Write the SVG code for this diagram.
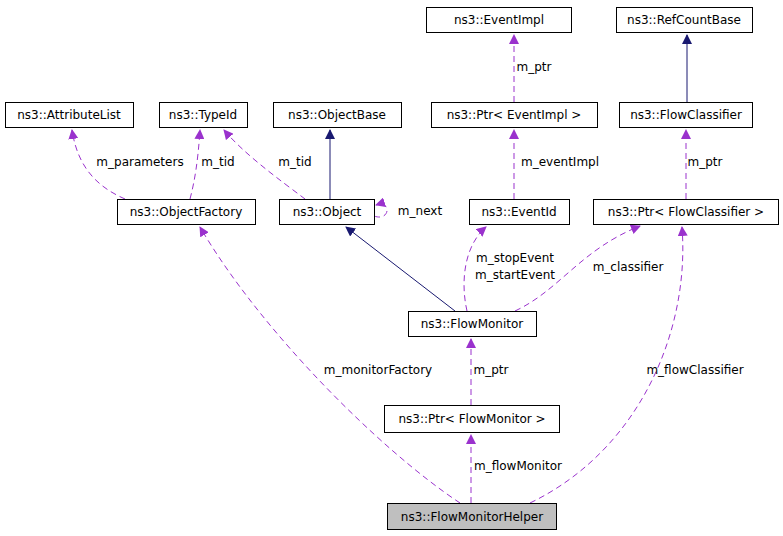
<svg xmlns="http://www.w3.org/2000/svg" width="783" height="536" viewBox="0 0 783 536">
<style>
text{font-family:"DejaVu Sans",sans-serif;font-size:12px;fill:#000}
.n{fill:#fff;stroke:#000;stroke-width:1}
.t{text-anchor:middle}
.d{fill:none;stroke:#9a32cd;stroke-dasharray:6,4}
.s{fill:none;stroke:#191970}
</style>
<defs>
<marker id="ap" viewBox="0 0 10 10" refX="9" refY="5" markerWidth="10" markerHeight="10" markerUnits="userSpaceOnUse" orient="auto"><path d="M0,0L10,5L0,10z" fill="#9a32cd"/></marker>
<marker id="an" viewBox="0 0 10 10" refX="9" refY="5" markerWidth="10" markerHeight="10" markerUnits="userSpaceOnUse" orient="auto"><path d="M0,0L10,5L0,10z" fill="#191970"/></marker>
</defs>
<rect width="783" height="536" fill="#fff"/>
<g id="edges">
<path class="d" d="M514,102L514,35" marker-end="url(#ap)"/><text x="534" y="71" class="t">m_ptr</text>
<path class="s" d="M687,102L687,35" marker-end="url(#an)"/>
<path class="d" d="M125,199C100,188 78,170 72,130" marker-end="url(#ap)"/><text x="140" y="166" class="t">m_parameters</text>
<path class="d" d="M190,199C195,180 198,160 200,130" marker-end="url(#ap)"/><text x="218" y="166" class="t">m_tid</text>
<path class="d" d="M305,199C280,180 245,155 224,130" marker-end="url(#ap)"/><text x="295" y="166" class="t">m_tid</text>
<path class="s" d="M330,199L330,130" marker-end="url(#an)"/>
<path class="d" d="M374,216C390,222 392,200 376,205" marker-end="url(#ap)"/><text x="420" y="215" class="t">m_next</text>
<path class="d" d="M514,199L514,130" marker-end="url(#ap)"/><text x="560" y="166" class="t">m_eventImpl</text>
<path class="d" d="M686,199L686,130" marker-end="url(#ap)"/><text x="705" y="166" class="t">m_ptr</text>
<path class="s" d="M455,311L346,227" marker-end="url(#an)"/>
<path class="d" d="M467,311C460,280 465,245 486,227" marker-end="url(#ap)"/><text x="515" y="262" class="t">m_stopEvent</text><text x="515" y="279" class="t">m_startEvent</text>
<path class="d" d="M515,311C560,290 580,250 640,226" marker-end="url(#ap)"/><text x="628" y="271" class="t">m_classifier</text>
<path class="d" d="M471,405L471,339" marker-end="url(#ap)"/><text x="491" y="374" class="t">m_ptr</text>
<path class="d" d="M471,503L471,435" marker-end="url(#ap)"/><text x="518" y="470" class="t">m_flowMonitor</text>
<path class="d" d="M460,503C380,450 260,330 200,227" marker-end="url(#ap)"/><text x="378" y="374" class="t">m_monitorFactory</text>
<path class="d" d="M530,503C640,450 690,330 682,227" marker-end="url(#ap)"/><text x="695" y="374" class="t">m_flowClassifier</text>
</g>
<g id="EventImpl"><rect class="n" x="426.5" y="7.5" width="145" height="25"/><text x="499" y="24" class="t">ns3::EventImpl</text></g>
<g id="RefCountBase"><rect class="n" x="616.5" y="7.5" width="136" height="25"/><text x="684" y="24" class="t">ns3::RefCountBase</text></g>
<g id="AttributeList"><rect class="n" x="5.5" y="102.5" width="128" height="25"/><text x="69" y="119" class="t">ns3::AttributeList</text></g>
<g id="TypeId"><rect class="n" x="159.5" y="102.5" width="88" height="25"/><text x="203" y="119" class="t">ns3::TypeId</text></g>
<g id="ObjectBase"><rect class="n" x="273.5" y="102.5" width="128" height="25"/><text x="337" y="119" class="t">ns3::ObjectBase</text></g>
<g id="PtrEventImpl"><rect class="n" x="431.5" y="102.5" width="166" height="25"/><text x="514" y="119" class="t">ns3::Ptr&lt; EventImpl &gt;</text></g>
<g id="FlowClassifier"><rect class="n" x="619.5" y="102.5" width="133" height="25"/><text x="686" y="119" class="t">ns3::FlowClassifier</text></g>
<g id="ObjectFactory"><rect class="n" x="117.5" y="199.5" width="138" height="25"/><text x="186" y="216" class="t">ns3::ObjectFactory</text></g>
<g id="Object"><rect class="n" x="279.5" y="199.5" width="95" height="25"/><text x="327" y="216" class="t">ns3::Object</text></g>
<g id="EventId"><rect class="n" x="469.5" y="199.5" width="100" height="25"/><text x="519" y="216" class="t">ns3::EventId</text></g>
<g id="PtrFlowClassifier"><rect class="n" x="593.5" y="199.5" width="185" height="25"/><text x="686" y="216" class="t">ns3::Ptr&lt; FlowClassifier &gt;</text></g>
<g id="FlowMonitor"><rect class="n" x="408.5" y="311.5" width="128" height="25"/><text x="472" y="328" class="t">ns3::FlowMonitor</text></g>
<g id="PtrFlowMonitor"><rect class="n" x="384.5" y="405.5" width="175" height="27"/><text x="472" y="423" class="t">ns3::Ptr&lt; FlowMonitor &gt;</text></g>
<g id="FlowMonitorHelper"><rect x="387.5" y="503.5" width="169" height="26" fill="#bfbfbf" stroke="#000"/><text x="472" y="521" class="t">ns3::FlowMonitorHelper</text></g>
</svg>
